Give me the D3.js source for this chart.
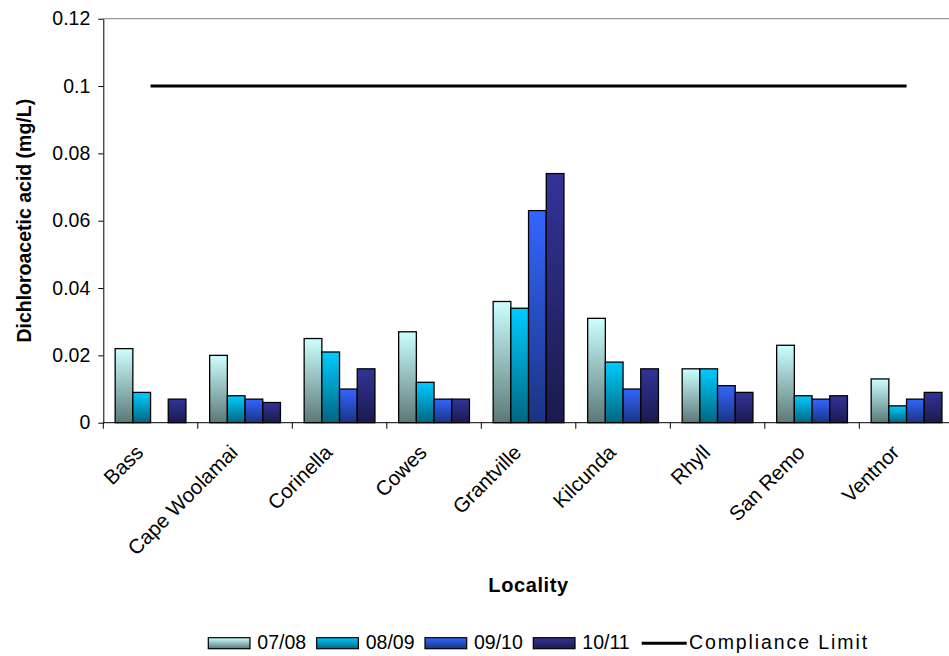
<!DOCTYPE html>
<html>
<head>
<meta charset="utf-8">
<script src="https://cdn.jsdelivr.net/npm/d3@7"></script>
<style>
  body { margin: 0; background: #fff; }
  svg { display: block; font-family: "Liberation Sans", Arial, sans-serif; }
</style>
</head>
<body>
<svg id="chart" width="949" height="656"></svg>
<script>
// Dichloroacetic acid by locality and season (mg/L)
const localities = ["Bass", "Cape Woolamai", "Corinella", "Cowes", "Grantville",
                    "Kilcunda", "Rhyll", "San Remo", "Ventnor"];
const seasons = ["07/08", "08/09", "09/10", "10/11"];
const v0708 = [0.022, 0.020, 0.025, 0.027, 0.036, 0.031, 0.016, 0.023, 0.013];
const v0809 = [0.009, 0.008, 0.021, 0.012, 0.034, 0.018, 0.016, 0.008, 0.005];
const v0910 = [null,  0.007, 0.010, 0.007, 0.063, 0.010, 0.011, 0.007, 0.007];
const v1011 = [0.007, 0.006, 0.016, 0.007, 0.074, 0.016, 0.009, 0.008, 0.009];
const complianceLimit = 0.1;
const yTicks = [0, 0.02, 0.04, 0.06, 0.08, 0.1, 0.12];
const yTickLabels = ["0", "0.02", "0.04", "0.06", "0.08", "0.1", "0.12"];

const seriesValues = [v0708, v0809, v0910, v1011];
// gradient stops (top, bottom) per season
const topColors = ["#ccffff", "#00ccff", "#3366ff", "#333399"];
const bottomColors = ["#5c7878", "#006680", "#1a3380", "#1a1a4d"];

const svg = d3.select("#chart");
const plot = { left: 103.3, top: 18.7, bottom: 422.7, step: 94.5 };

const x = d3.scaleBand()
  .domain(localities)
  .range([plot.left, plot.left + plot.step * localities.length])
  .paddingInner(0).paddingOuter(0);

const xs = d3.scaleBand()
  .domain(seasons)
  .range([0, x.bandwidth()])
  .paddingInner(0).paddingOuter(0.67);

const y = d3.scaleLinear().domain([0, 0.12]).range([plot.bottom, plot.top]);

// gradients
const defs = svg.append("defs");
seasons.forEach((s, i) => {
  const g = defs.append("linearGradient")
    .attr("id", "grad" + i)
    .attr("x1", 0).attr("y1", 0).attr("x2", 0).attr("y2", 1);
  g.append("stop").attr("offset", "0%").attr("stop-color", topColors[i]);
  g.append("stop").attr("offset", "100%").attr("stop-color", bottomColors[i]);
});

// plot frame top edge
svg.append("line")
  .attr("x1", plot.left).attr("x2", x.range()[1])
  .attr("y1", y(0.12)).attr("y2", y(0.12))
  .attr("stroke", "#9a9a9a").attr("stroke-width", 1.2);

// bars
const barData = [];
localities.forEach((loc, li) => {
  seasons.forEach((s, si) => {
    const v = seriesValues[si][li];
    if (v != null) barData.push({ loc, s, si, v });
  });
});

svg.append("g").selectAll("rect")
  .data(barData)
  .join("rect")
  .attr("x", d => x(d.loc) + xs(d.s))
  .attr("y", d => y(d.v))
  .attr("width", xs.bandwidth())
  .attr("height", d => y(0) - y(d.v))
  .attr("fill", d => `url(#grad${d.si})`)
  .attr("stroke", "#000")
  .attr("stroke-width", 1.3);

// compliance limit line, from first to last locality centre
svg.append("line")
  .attr("x1", x(localities[0]) + x.bandwidth() / 2)
  .attr("x2", x(localities[localities.length - 1]) + x.bandwidth() / 2)
  .attr("y1", y(complianceLimit)).attr("y2", y(complianceLimit))
  .attr("stroke", "#000").attr("stroke-width", 3);

// y axis
const yAxis = svg.append("g")
  .attr("transform", `translate(${plot.left},0)`)
  .call(d3.axisLeft(y).tickValues(yTicks)
    .tickFormat((d, i) => yTickLabels[i])
    .tickSize(5).tickSizeOuter(0).tickPadding(8));
yAxis.selectAll("text").attr("font-size", 19.5).attr("fill", "#000")
  .attr("font-family", "Liberation Sans, Arial, sans-serif");
yAxis.selectAll("line, path").attr("stroke", "#000");

// x axis line with ticks on category boundaries
const xAxis = svg.append("g").attr("transform", `translate(0,${plot.bottom})`);
xAxis.append("line")
  .attr("x1", x.range()[0]).attr("x2", x.range()[1])
  .attr("stroke", "#000").attr("stroke-width", 1);
const bounds = localities.map(d => x(d)).concat([x.range()[1]]);
xAxis.selectAll("line.tick")
  .data(bounds)
  .join("line").attr("class", "tick")
  .attr("x1", d => d).attr("x2", d => d)
  .attr("y1", 0).attr("y2", 6)
  .attr("stroke", "#000");

// rotated locality labels
svg.append("g").selectAll("text")
  .data(localities)
  .join("text")
  .attr("transform", d => `translate(${x(d) + x.bandwidth() / 2 - 6},${plot.bottom + 31}) rotate(-45)`)
  .attr("text-anchor", "end")
  .attr("font-size", 20.5)
  .attr("fill", "#000")
  .text(d => d);

// axis titles
svg.append("text")
  .attr("transform", `translate(31,${(plot.top + plot.bottom) / 2}) rotate(-90)`)
  .attr("text-anchor", "middle")
  .attr("font-size", 19.5).attr("font-weight", "bold")
  .text("Dichloroacetic acid (mg/L)");

svg.append("text")
  .attr("x", (x.range()[0] + x.range()[1]) / 2)
  .attr("y", 592)
  .attr("text-anchor", "middle")
  .attr("font-size", 20).attr("font-weight", "bold")
  .attr("letter-spacing", 0.6)
  .text("Locality");

// legend
const legend = svg.append("g");
const legendX = [208.3, 316.7, 425, 533.3];
seasons.forEach((s, i) => {
  legend.append("rect")
    .attr("x", legendX[i]).attr("y", 637.7)
    .attr("width", 41.7).attr("height", 11)
    .attr("fill", `url(#grad${i})`)
    .attr("stroke", "#000").attr("stroke-width", 1.2);
  legend.append("text")
    .attr("x", legendX[i] + 49).attr("y", 648.5)
    .attr("font-size", 19.5).text(s);
});
legend.append("line")
  .attr("x1", 641.7).attr("x2", 686.7)
  .attr("y1", 643.3).attr("y2", 643.3)
  .attr("stroke", "#000").attr("stroke-width", 3);
legend.append("text")
  .attr("x", 689).attr("y", 648.5)
  .attr("font-size", 19.5).attr("letter-spacing", 1.9)
  .text("Compliance Limit");
</script>
</body>
</html>
